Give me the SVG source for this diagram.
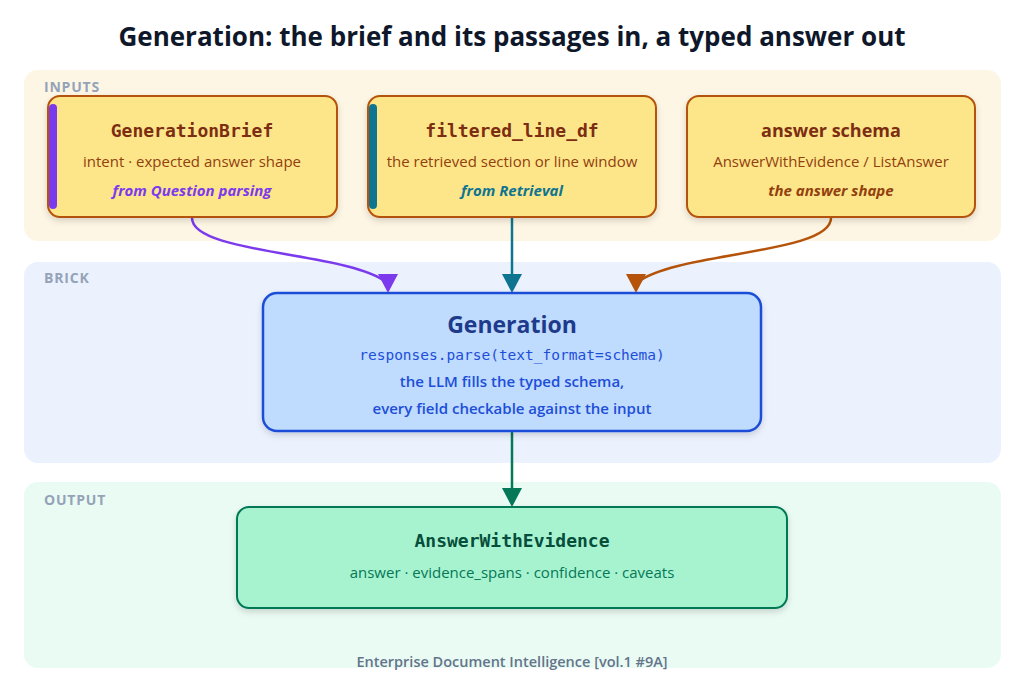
<svg xmlns="http://www.w3.org/2000/svg" width="1024" height="685" viewBox="0 0 1024 685">
<style>
.band{stroke:none}
.blabel{font-family:"Open Sans","Noto Sans",sans-serif;font-weight:700;font-size:14px;fill:#94a3b8;letter-spacing:0.8px}
.in{fill:#fde68a;stroke:#b45309;stroke-width:2}
.mono{font-family:"DejaVu Sans Mono","Liberation Mono",monospace}
.sans{font-family:"Open Sans","Noto Sans",sans-serif}
.t1{font-size:18px;font-weight:700;fill:#7c2d12;text-anchor:middle}
.s1{font-size:15px;font-weight:500;fill:#92400e;text-anchor:middle}
.it{font-size:15px;font-weight:700;font-style:italic;text-anchor:middle}
.conn{fill:none;stroke-width:2.5}
</style>
<defs>
<filter id="sh" x="-10%" y="-10%" width="120%" height="130%">
<feDropShadow dx="0" dy="3" stdDeviation="3" flood-color="#000" flood-opacity="0.15"/>
</filter>
</defs>
<rect width="1024" height="685" fill="#ffffff"/>
<text x="512" y="46" text-anchor="middle" class="sans" style="font-size:26px;font-weight:700;fill:#0f172a">Generation: the brief and its passages in, a typed answer out</text>

<rect class="band" x="24" y="70" width="977" height="171" rx="14" fill="#fef6e4"/>
<text class="blabel" x="44" y="92">INPUTS</text>
<rect class="band" x="24" y="262" width="977" height="201" rx="14" fill="#ebf2fe"/>
<text class="blabel" x="44" y="283">BRICK</text>
<rect class="band" x="24" y="482" width="977" height="186" rx="14" fill="#eafbf3"/>
<text class="blabel" x="44" y="505">OUTPUT</text>

<g id="connectors">
<path class="conn" d="M192,218 C192,254 348,252 386,282" stroke="#7c3aed"/>
<path d="M378,274 L398,274 L388,293 Z" fill="#7c3aed"/>
<path class="conn" d="M512,218 L512,276" stroke="#0e7490"/>
<path d="M502,274 L522,274 L512,293 Z" fill="#0e7490"/>
<path class="conn" d="M831,218 C831,254 676,252 638,282" stroke="#b45309"/>
<path d="M626,274 L646,274 L636,293 Z" fill="#b45309"/>
<path class="conn" d="M512,432 L512,490" stroke="#047857"/>
<path d="M502,488 L522,488 L512,507 Z" fill="#047857"/>
</g>

<g id="node-brief">
<rect class="in" x="48" y="96" width="289" height="121" rx="12" filter="url(#sh)"/>
<rect x="49" y="104" width="8" height="105" rx="4" fill="#7c3aed"/>
<text class="mono t1" x="192" y="137">GenerationBrief</text>
<text class="sans s1" x="192" y="167">intent · expected answer shape</text>
<text class="sans it" x="192" y="196" fill="#7c3aed">from Question parsing</text>
</g>

<g id="node-filtered">
<rect class="in" x="368" y="96" width="288" height="121" rx="12" filter="url(#sh)"/>
<rect x="369" y="104" width="8" height="105" rx="4" fill="#0e7490"/>
<text class="mono t1" x="512" y="137">filtered_line_df</text>
<text class="sans s1" x="512" y="167">the retrieved section or line window</text>
<text class="sans it" x="512" y="196" fill="#0e7490">from Retrieval</text>
</g>

<g id="node-schema">
<rect class="in" x="687" y="96" width="288" height="121" rx="12" filter="url(#sh)"/>
<text class="sans t1" x="831" y="137">answer schema</text>
<text class="sans s1" x="831" y="167">AnswerWithEvidence / ListAnswer</text>
<text class="sans it" x="831" y="196" fill="#92400e">the answer shape</text>
</g>

<g id="node-generation">
<rect x="263" y="293" width="498" height="138" rx="14" fill="#bfdbfe" stroke="#1d4ed8" stroke-width="2.5" filter="url(#sh)"/>
<text class="sans" x="512" y="333" text-anchor="middle" style="font-size:23px;font-weight:700;fill:#1e3a8a">Generation</text>
<text class="mono" x="512" y="360" text-anchor="middle" style="font-size:14.5px;fill:#1d4ed8">responses.parse(text_format=schema)</text>
<text class="sans" x="512" y="387" text-anchor="middle" style="font-size:15px;font-weight:600;fill:#1d4ed8">the LLM fills the typed schema,</text>
<text class="sans" x="512" y="414" text-anchor="middle" style="font-size:15px;font-weight:600;fill:#1d4ed8">every field checkable against the input</text>
</g>

<g id="node-output">
<rect x="237" y="507" width="550" height="101" rx="12" fill="#a7f3d0" stroke="#047857" stroke-width="2" filter="url(#sh)"/>
<text class="mono" x="512" y="547" text-anchor="middle" style="font-size:18px;font-weight:700;fill:#064e3b">AnswerWithEvidence</text>
<text class="sans" x="512" y="578" text-anchor="middle" style="font-size:15px;font-weight:500;fill:#047857">answer · evidence_spans · confidence · caveats</text>
</g>

<text class="sans" x="512" y="667" text-anchor="middle" style="font-size:14.5px;font-weight:600;fill:#64748b">Enterprise Document Intelligence [vol.1 #9A]</text>
</svg>
